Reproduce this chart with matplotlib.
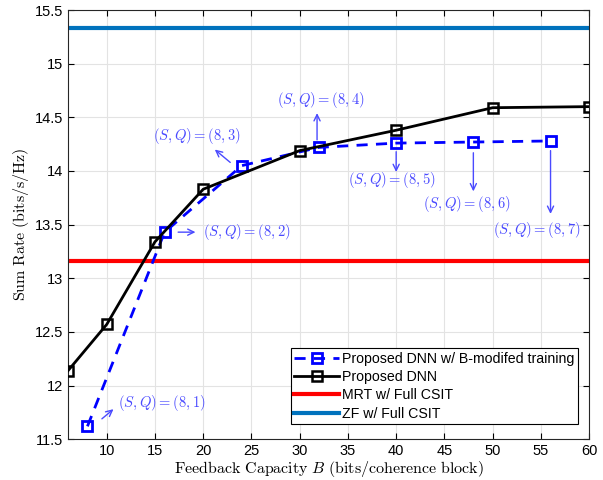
import matplotlib
matplotlib.use("Agg")
import matplotlib.pyplot as plt

# data
b_dnn = [6, 10, 15, 20, 30, 40, 50, 60]
rate_dnn = [12.14, 12.57, 13.34, 13.83, 14.19, 14.38, 14.59, 14.60]

b_mod = [8, 16, 24, 32, 40, 48, 56]
rate_mod = [11.62, 13.43, 14.05, 14.22, 14.26, 14.27, 14.28]

rate_mrt = 13.16
rate_zf = 15.33

sq_labels = ["(8,1)", "(8,2)", "(8,3)", "(8,4)", "(8,5)", "(8,6)", "(8,7)"]
# text position, arrow tail, arrow head
text_pos = [(11.2, 11.84), (20.0, 13.43), (14.8, 14.33), (27.6, 14.66),
            (35.0, 13.92), (42.8, 13.69), (50.0, 13.45)]
arrow_tail = [(9.5, 11.69), (17.4, 13.43), (22.8, 14.08), (31.8, 14.29),
              (40.0, 14.18), (48.0, 14.17), (56.0, 14.19)]
arrow_head = [(10.7, 11.78), (19.2, 13.43), (21.2, 14.20), (31.8, 14.54),
              (40.0, 13.99), (48.0, 13.81), (56.0, 13.60)]

plt.rcParams['font.family'] = ['Liberation Sans', 'DejaVu Sans']
plt.rcParams['mathtext.fontset'] = 'cm'

fig, ax = plt.subplots(figsize=(6.03, 4.8), dpi=100)
fig.subplots_adjust(left=0.113, right=0.977, top=0.979, bottom=0.085)

ax.plot(b_mod, rate_mod, color='#0000ff', linestyle='--', linewidth=2,
        marker='s', markersize=7, markerfacecolor='none', markeredgewidth=2,
        dashes=(4, 3), label='Proposed DNN w/ B-modifed training', zorder=4)
ax.plot(b_dnn, rate_dnn, color='black', linewidth=2,
        marker='s', markersize=7, markerfacecolor='none', markeredgewidth=1.8,
        label='Proposed DNN', zorder=5)
ax.axhline(rate_mrt, color='#ff0000', linewidth=3, label='MRT w/ Full CSIT')
ax.axhline(rate_zf, color='#0072bd', linewidth=3, label='ZF w/ Full CSIT')

ann_color = '#4a4aff'
for lab, tp, t0, t1 in zip(sq_labels, text_pos, arrow_tail, arrow_head):
    ax.text(tp[0], tp[1], r'$(S,Q) = %s$' % lab, color=ann_color,
            fontsize=10.5, va='center', ha='left')
    ax.annotate('', xy=t1, xytext=t0,
                arrowprops=dict(arrowstyle='->,head_length=0.45,head_width=0.22',
                                color=ann_color, lw=1, shrinkA=0, shrinkB=0))

ax.set_xlim(6, 60)
ax.set_ylim(11.5, 15.5)
ax.set_xticks(range(10, 61, 5))
ax.set_yticks([11.5, 12, 12.5, 13, 13.5, 14, 14.5, 15, 15.5])
ax.set_yticklabels(['11.5', '12', '12.5', '13', '13.5', '14', '14.5', '15', '15.5'])
ax.tick_params(direction='in', top=True, right=True, labelsize=10.5, length=4)
ax.grid(True, color='#e3e3e3', linewidth=0.8)
ax.set_axisbelow(True)
for sp in ax.spines.values():
    sp.set_color('#262626')

ax.set_xlabel(r'$\mathrm{Feedback\ Capacity}\ B\ \mathrm{(bits/coherence\ block)}$',
              fontsize=11.5, labelpad=1)
ax.set_ylabel(r'$\mathrm{Sum\ Rate\ (bits/s/Hz)}$', fontsize=11.5, labelpad=3)

leg = ax.legend(loc='lower right', bbox_to_anchor=(0.979, 0.035),
                fontsize=10.2, fancybox=False,
                edgecolor='black', framealpha=1, handlelength=3.2,
                borderaxespad=0, labelspacing=0.3, handletextpad=0.2,
                borderpad=0.25)
leg.get_frame().set_linewidth(0.8)

plt.savefig('out.png', dpi=100)
